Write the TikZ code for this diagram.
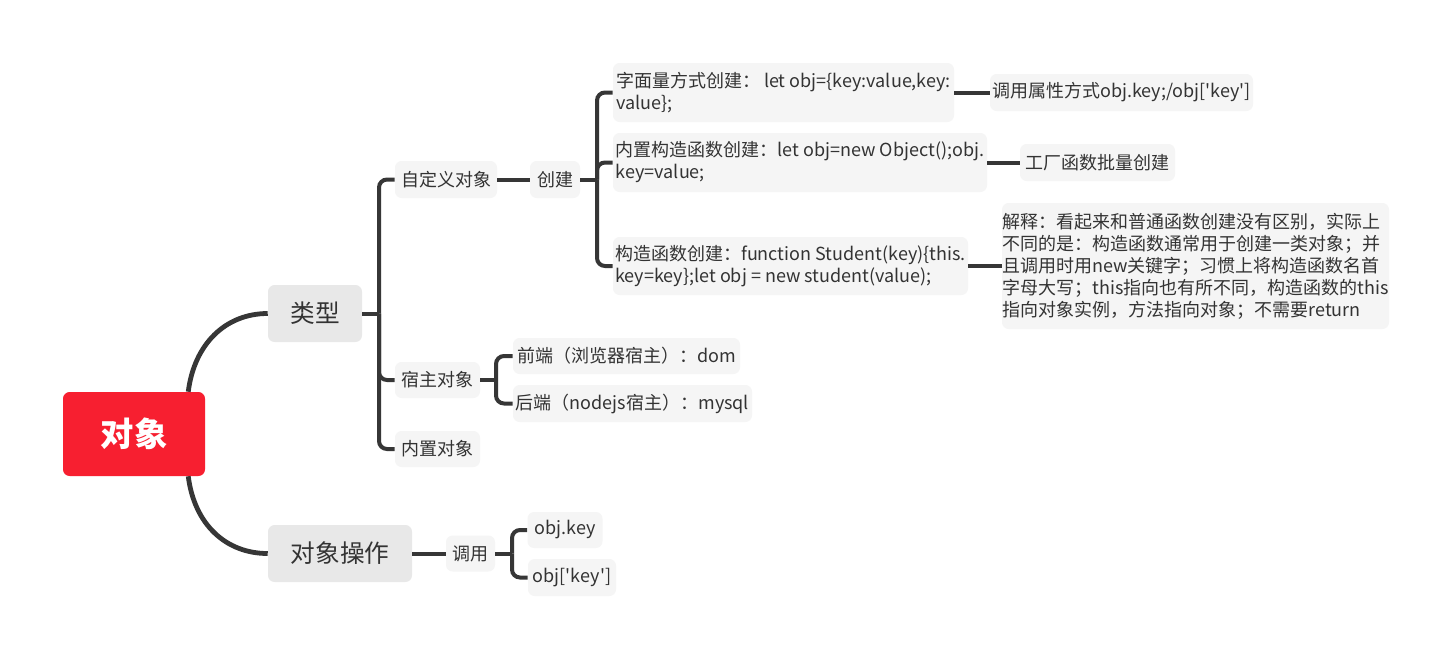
\documentclass[tikz,border=0pt]{standalone}
\usepackage{fontspec}
\setmainfont{Noto Sans CJK SC}
\usetikzlibrary{calc}
\definecolor{txt}{HTML}{333333}
\definecolor{ln}{HTML}{363636}
\definecolor{rootred}{HTML}{F71F30}
\definecolor{lvA}{HTML}{E8E8E8}
\definecolor{lvB}{HTML}{F5F5F5}
\begin{document}
\begin{tikzpicture}[x=0.75pt,y=-0.75pt,
  bx/.style 2 args={rectangle, rounded corners=5pt, minimum width=#1*0.75pt, minimum height=#2*0.75pt, inner sep=0pt, text=txt, align=left},
  topic/.style={fill=lvA, font=\fontsize{18.5}{22}\selectfont},
  sub/.style={fill=lvB, font=\fontsize{13.5}{16.5}\selectfont},
  conn/.style={draw=ln, line width=3pt},
  mainconn/.style={draw=ln, line width=3.6pt},
  bconn/.style={conn, rounded corners=6pt}]
\fill[white] (0,0) rectangle (1452,658);
\useasboundingbox (0,0) rectangle (1452,658);

% nodes
\node[bx={142}{84}, fill=rootred, text=white, font=\fontsize{25}{30}\selectfont\bfseries] (root) at (134,434) {对象};
\node[bx={94}{57}, topic] (leixing) at (315,313.5) {类型};
\node[bx={144}{57}, topic] (caozuo) at (340,553.5) {对象操作};
\node[bx={102}{37}, sub] (zdy) at (446,179.5) {自定义对象};
\node[bx={50}{37}, sub] (cj) at (555,179.5) {创建};
\node[bx={85}{36}, sub] (suzhu) at (437.5,380) {宿主对象};
\node[bx={85}{36}, sub] (neizhi) at (437.5,449) {内置对象};
\node[bx={341}{59}, sub] (zimian) at (783.5,92.5) {字面量方式创建：\ let obj=\{key:value,key:\\value\};};
\node[bx={374}{59}, sub] (nzgz) at (800,162.5) {内置构造函数创建：let obj=new Object();obj.\\key=value;};
\node[bx={355}{58}, sub] (gz) at (790.5,266) {构造函数创建：function Student(key)\{this.\\key=key\};let obj = new student(value);};
\node[bx={263}{37}, sub] (dysx) at (1121.5,92.5) {调用属性方式obj.key;/obj[\textquotesingle key\textquotesingle]};
\node[bx={155}{37}, sub] (gc) at (1097.5,162.5) {工厂函数批量创建};
\node[bx={387}{126}, sub] (js) at (1195.5,266) {解释：看起来和普通函数创建没有区别，实际上\\不同的是：构造函数通常用于创建一类对象；并\\且调用时用new关键字；习惯上将构造函数名首\\字母大写；this指向也有所不同，构造函数的this\\指向对象实例，方法指向对象；不需要return};
\node[bx={227}{36}, sub] (qd) at (626.5,356) {前端（浏览器宿主）：dom};
\node[bx={239}{37}, sub] (hd) at (632.5,403.5) {后端（nodejs宿主）：mysql};
\node[bx={49}{36}, sub] (dy) at (470.5,553.5) {调用};
\node[bx={75}{36}, sub] (ok1) at (565,530) {obj.key};
\node[bx={88}{37}, sub] (ok2) at (572,577.5) {obj[\textquotesingle key\textquotesingle]};

% main curves
\coordinate (rt) at ($(root.north east)+(-17,0)$);
\coordinate (rb) at ($(root.south east)+(-17,0)$);
\draw[mainconn] (rt) .. controls +(6,-48) and +(-42,0) .. (leixing.west);
\draw[mainconn] (rb) .. controls +(6,48) and +(-42,0) .. (caozuo.west);

% brackets
\coordinate (b1) at (379,313.5);
\draw[conn] (leixing.east) -- (b1);
\draw[bconn] (b1) |- (zdy.west);
\draw[bconn] (b1) |- (suzhu.west);
\draw[bconn] (b1) |- (neizhi.west);

\coordinate (b2) at (597,179.5);
\draw[conn] (cj.east) -- (b2);
\draw[bconn] (b2) |- (zimian.west);
\draw[bconn] (b2) |- (nzgz.west);
\draw[bconn] (b2) |- (gz.west);

\coordinate (b3) at (496,380);
\draw[conn] (suzhu.east) -- (b3);
\draw[bconn] (b3) |- (qd.west);
\draw[bconn] (b3) |- (hd.west);

\coordinate (b4) at (512,553.5);
\draw[conn] (dy.east) -- (b4);
\draw[bconn] (b4) |- (ok1.west);
\draw[bconn] (b4) |- (ok2.west);

% straight links
\draw[conn] (zdy.east) -- (cj.west);
\draw[conn] (zimian.east) -- (dysx.west);
\draw[conn] (nzgz.east) -- (gc.west);
\draw[conn] (gz.east) -- (js.west);
\draw[conn] (caozuo.east) -- (dy.west);
\end{tikzpicture}
\end{document}
